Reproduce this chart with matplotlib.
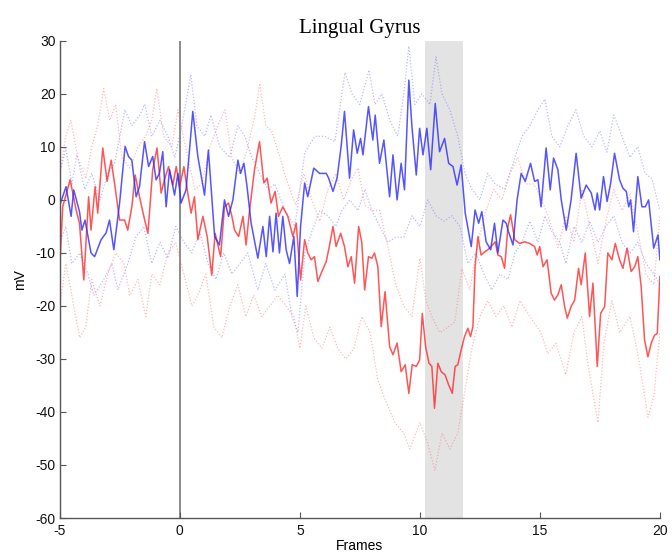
import numpy as np
import matplotlib
matplotlib.use("Agg")
import matplotlib.pyplot as plt

plt.rcParams["axes.unicode_minus"] = False

# --------------------------------
# DATA (frames / mV)
# --------------------------------
blue_x = [-5.00, -4.95, -4.74, -4.53, -4.42, -4.18, -4.08, -3.95, -3.70, -3.55,
          -3.28, -3.07, -2.93, -2.75, -2.51, -2.28, -2.14, -2.00, -1.82, -1.68,
          -1.47, -1.30, -1.13, -0.99, -0.85, -0.71, -0.57, -0.43, -0.22, -0.08,
          0.05, 0.26, 0.54, 0.75, 1.03, 1.19, 1.45, 1.65, 1.86, 2.03,
          2.21, 2.42, 2.53, 2.67, 2.80, 2.97, 3.25, 3.46, 3.60, 3.74,
          3.88, 4.01, 4.15, 4.29, 4.43, 4.57, 4.75, 4.89, 5.03, 5.20,
          5.33, 5.58, 5.82, 6.10, 6.20, 6.38, 6.55, 6.72, 6.86, 7.07,
          7.24, 7.39, 7.53, 7.63, 7.86, 8.04, 8.14, 8.32, 8.50, 8.74,
          8.88, 9.05, 9.22, 9.36, 9.54, 9.67, 9.85, 9.99, 10.13, 10.29,
          10.45, 10.64, 10.82, 11.03, 11.20, 11.38, 11.55, 11.72, 11.89, 12.14,
          12.30, 12.45, 12.58, 12.76, 12.95, 13.11, 13.25, 13.46, 13.60, 13.67,
          13.88, 14.05, 14.22, 14.39, 14.61, 14.78, 14.92, 15.05, 15.26, 15.43,
          15.57, 15.75, 15.89, 16.10, 16.30, 16.51, 16.72, 16.93, 17.14, 17.30,
          17.39, 17.49, 17.65, 17.80, 17.95, 18.11, 18.32, 18.46, 18.60, 18.70,
          18.78, 18.90, 19.08, 19.25, 19.39, 19.53, 19.74, 19.92, 20.00]
blue_mean = [-1.0, -0.3, 2.5, -3.1, 1.9, -2.2, -5.7, -3.8, -10.0, -10.7,
             -7.5, -6.2, -3.8, -9.4, -0.6, 10.1, 8.2, 7.5, 0.6, 2.5,
             11.0, 6.3, 8.2, 3.8, 5.0, 9.1, -1.3, 5.7, 0.9, 5.0,
             -0.6, 1.9, 16.7, 8.2, 0.9, 9.4, -6.9, -8.5, 0.0, -3.1,
             0.0, 7.5, 5.0, 6.9, 2.5, -4.4, -11.0, -5.0, -10.7, -3.1,
             -9.8, -2.5, -10.0, -3.1, -9.4, -12.0, -6.9, -18.2, -5.0, 3.2,
             0.6, 6.0, 5.0, 5.0, 4.1, 1.6, 4.1, 10.1, 16.7, 4.1,
             13.2, 8.8, 11.6, 8.5, 17.6, 11.3, 16.0, 6.9, 11.3, 0.6,
             8.5, 0.0, 6.9, 1.9, 22.6, 13.8, 4.7, 13.5, 8.5, 13.5,
             5.7, 18.2, 9.1, 11.6, 6.9, 6.3, 2.8, 6.6, -2.5, -8.8,
             -1.9, -4.4, -2.2, -7.9, -9.4, -4.4, -10.0, -3.8, -4.4, -5.7,
             -8.5, 0.0, 5.0, 3.5, 6.9, 3.5, 3.8, -1.3, 9.8, 1.9,
             7.9, 5.7, 0.0, -5.7, 0.0, 8.8, 0.3, 2.8, 1.3, -1.9,
             1.3, -1.9, 4.4, -0.3, 3.2, 8.8, 3.8, 2.2, 1.6, -1.3,
             0.0, -6.0, 4.4, -1.3, -1.3, 0.0, -9.1, -6.6, -11.3]

red_x = [-5.00, -4.88, -4.57, -4.32, -4.18, -4.00, -3.80, -3.70, -3.53, -3.42,
         -3.21, -3.03, -2.86, -2.70, -2.51, -2.30, -2.17, -2.00, -1.86, -1.68,
         -1.50, -1.33, -1.13, -0.95, -0.78, -0.64, -0.47, -0.29, -0.15, -0.01,
         0.17, 0.33, 0.47, 0.61, 0.75, 0.96, 1.14, 1.33, 1.47, 1.70,
         1.86, 2.03, 2.17, 2.28, 2.45, 2.63, 2.76, 2.90, 3.11, 3.32,
         3.50, 3.64, 3.80, 3.97, 4.11, 4.29, 4.50, 4.71, 4.85, 5.03,
         5.20, 5.33, 5.47, 5.61, 5.75, 5.89, 6.10, 6.24, 6.38, 6.51,
         6.70, 6.86, 7.00, 7.14, 7.28, 7.45, 7.58, 7.70, 7.86, 8.00,
         8.11, 8.25, 8.39, 8.55, 8.74, 8.88, 9.05, 9.22, 9.39, 9.54,
         9.68, 9.85, 9.99, 10.10, 10.24, 10.38, 10.50, 10.61, 10.75, 10.89,
         11.05, 11.20, 11.35, 11.47, 11.58, 11.72, 11.86, 12.00, 12.11, 12.21,
         12.30, 12.42, 12.55, 12.70, 12.83, 12.97, 13.14, 13.25, 13.39, 13.53,
         13.67, 13.78, 13.95, 14.15, 14.36, 14.57, 14.78, 14.89, 14.99, 15.13,
         15.30, 15.47, 15.61, 15.75, 15.89, 16.03, 16.14, 16.30, 16.45, 16.61,
         16.72, 16.89, 17.07, 17.21, 17.39, 17.53, 17.70, 17.83, 18.00, 18.14,
         18.32, 18.46, 18.63, 18.80, 18.95, 19.08, 19.22, 19.36, 19.50, 19.64,
         19.78, 19.89, 20.00]
red_mean = [-12.6, -1.3, 3.8, -1.9, -4.4, -15.1, 0.6, -5.7, 2.5, -2.5,
            9.8, 3.5, 7.5, 2.5, -3.8, -3.8, -5.7, -1.3, 4.7, 0.6,
            -3.1, -6.3, 5.7, 9.8, 1.3, 3.8, 6.3, 2.8, 6.3, 2.5,
            6.3, 1.3, -2.5, 0.6, -7.5, -3.1, -6.9, -14.2, -6.3, -10.7,
            -1.3, -0.6, -3.1, -5.7, -6.9, -3.1, -8.5, -2.2, 5.7, 11.0,
            3.2, 4.1, -0.6, 1.6, -3.1, -1.3, -3.1, -6.9, -4.4, -15.1,
            -7.5, -10.0, -11.3, -10.7, -15.4, -13.8, -11.6, -8.5, -5.0, -8.8,
            -6.3, -8.8, -12.6, -10.7, -15.7, -5.0, -8.0, -17.0, -10.7, -11.0,
            -10.0, -12.6, -23.9, -17.3, -27.7, -29.2, -27.0, -32.4, -31.1, -36.5,
            -31.1, -31.4, -30.2, -21.4, -27.7, -30.8, -31.4, -39.3, -30.8, -32.4,
            -33.0, -34.9, -36.5, -31.4, -31.1, -28.3, -25.8, -24.2, -25.8, -23.9,
            -12.6, -6.9, -10.4, -9.8, -9.4, -8.8, -7.9, -10.4, -10.7, -12.9,
            -5.0, -2.8, -7.5, -8.2, -7.9, -8.2, -8.8, -10.4, -8.8, -12.6,
            -11.3, -17.6, -18.9, -17.9, -16.0, -20.1, -22.3, -20.1, -18.9, -12.9,
            -16.0, -10.0, -22.0, -15.7, -31.4, -21.4, -20.1, -10.0, -11.3, -8.2,
            -11.3, -12.9, -9.1, -13.5, -12.6, -10.7, -16.4, -26.4, -29.6, -27.0,
            -25.5, -25.2, -14.5]

bu_x = [-5.00, -4.75, -4.50, -4.29, -3.96, -3.67, -3.33, -3.00, -2.71, -2.29,
        -2.00, -1.67, -1.46, -1.17, -0.83, -0.50, -0.21, 0.08, 0.46, 0.71,
        1.04, 1.29, 1.67, 2.08, 2.42, 2.71, 3.00, 3.33, 3.67, 3.96,
        4.38, 4.79, 5.21, 5.63, 6.04, 6.46, 6.88, 7.17, 7.50, 7.88,
        8.13, 8.42, 8.75, 9.08, 9.33, 9.54, 9.79, 10.08, 10.42, 10.67,
        10.92, 11.25, 11.58, 11.88, 12.17, 12.50, 12.83, 13.13, 13.54, 13.96,
        14.25, 14.58, 14.92, 15.21, 15.50, 15.83, 16.17, 16.50, 16.83, 17.17,
        17.50, 17.79, 18.08, 18.42, 18.75, 19.08, 19.38, 19.67, 20.00]
blue_upper = [5, 9.8, 3, 8.5, 2, 5, 0, 5, 7, 17,
              14, 16, 18, 12, 15, 12, 8, 14, 23.6, 14,
              12, 16, 10, 8, 14, 12, 8, 5, 2, 3,
              -2, -5, 9, 12, 12, 11, 24, 20, 18, 24.5,
              18, 20, 15, 12, 20, 29, 18, 20, 18, 27,
              20, 17, 12, 5, 2, 0, 5, 3, 2, 8,
              12, 14, 17, 19, 12, 10, 14, 17, 12, 10,
              13, 9, 16, 12, 8, 10, 5, 4, -2]

bl_x = [-5.00, -4.75, -4.50, -4.17, -3.83, -3.58, -3.17, -2.83, -2.58, -2.17,
        -1.83, -1.50, -1.17, -0.83, -0.50, -0.17, 0.17, 0.50, 0.83, 1.17,
        1.50, 1.83, 2.17, 2.50, 2.83, 3.25, 3.58, 3.96, 4.38, 4.67,
        4.92, 5.21, 5.50, 5.83, 6.17, 6.50, 6.75, 7.08, 7.42, 7.71,
        8.00, 8.33, 8.67, 9.00, 9.33, 9.67, 10.00, 10.33, 10.67, 11.00,
        11.33, 11.67, 12.00, 12.33, 12.67, 13.00, 13.33, 13.67, 13.96, 14.25,
        14.58, 14.92, 15.21, 15.50, 15.83, 16.08, 16.42, 16.75, 17.08, 17.42,
        17.75, 18.08, 18.42, 18.75, 19.08, 19.42, 19.75, 20.00]
blue_lower = [-8, -5, -12, -10, -14, -18, -15, -12, -17, -12,
              -7, -5, -12, -8, -11, -5, -8, -10, -6, -12,
              -15, -10, -14, -12, -10, -17, -12, -17, -14, -22,
              -25, -10, -6, -2, -3, -5, -2, 0, -2, 2,
              -2, -5, -8, -7, -7, -3, -5, 0, -3, -4,
              -3, -5, -12, -10, -14, -17, -14, -15, -10, -8,
              -4, -8, -3, -6, -8, -12, -5, -8, -4, -8,
              -5, -3, -8, -10, -8, -12, -14, -16]

ru_x = [-5.00, -4.75, -4.54, -4.25, -3.92, -3.67, -3.42, -3.17, -2.92, -2.67,
        -2.42, -2.08, -1.75, -1.42, -1.17, -0.96, -0.67, -0.33, -0.08, 0.33,
        0.63, 0.92, 1.25, 1.58, 1.88, 2.17, 2.50, 2.83, 3.13, 3.33,
        3.58, 3.83, 4.17, 4.50, 4.83, 5.17, 5.50, 5.83, 6.17, 6.50,
        6.83, 7.17, 7.42, 7.71, 8.00, 8.33, 8.67, 9.00, 9.33, 9.67,
        10.00, 10.25, 10.50, 10.83, 11.17, 11.46, 11.75, 12.08, 12.42, 12.75,
        13.08, 13.42, 13.75, 14.08, 14.42, 14.75, 15.08, 15.42, 15.75, 16.08,
        16.42, 16.75, 17.08, 17.42, 17.75, 18.08, 18.42, 18.75, 19.08, 19.42,
        19.75, 20.00]
red_upper = [5, 12, 15, 8, 4, 10, 14, 21, 15, 18,
             8, 6, 10, 12, 15, 21, 12, 10, 17, 8,
             2, 3, 10, 14, 17, 8, 5, 10, 16, 22,
             14, 13, 8, 3, -1, 5, 0, -4, 2, 5,
             0, 4, 6, -1, -2, -2, -9, -16, -20, -22,
             -11, -19, -22, -25, -24, -23, -13, -17, -8, -2,
             2, 0, 5, 8, 3, 3, 0, -4, -9, -3,
             -8, 2, -5, -12, -4, 2, -2, 1, -6, -14,
             -16, -3]

rl_x = [-5.00, -4.75, -4.50, -4.17, -3.92, -3.67, -3.33, -3.00, -2.67, -2.33,
        -2.08, -1.75, -1.42, -1.17, -0.83, -0.50, -0.17, 0.17, 0.50, 0.75,
        1.08, 1.42, 1.75, 2.08, 2.42, 2.75, 3.08, 3.42, 3.75, 4.08,
        4.42, 4.75, 5.00, 5.25, 5.58, 5.92, 6.25, 6.58, 6.92, 7.25,
        7.58, 7.92, 8.25, 8.58, 8.96, 9.33, 9.58, 10.00, 10.33, 10.63,
        10.92, 11.25, 11.58, 11.88, 12.17, 12.50, 12.83, 13.17, 13.50, 13.83,
        14.17, 14.58, 15.04, 15.33, 15.67, 16.08, 16.42, 16.75, 17.00, 17.42,
        17.67, 18.00, 18.33, 18.75, 19.08, 19.50, 19.75, 20.00]
red_lower = [-20, -12, -18, -26, -24, -15, -20, -14, -10, -12,
             -18, -15, -22, -14, -16, -10, -8, -14, -20, -18,
             -14, -24, -26, -20, -16, -22, -18, -22, -20, -18,
             -20, -22, -28, -20, -26, -28, -24, -28, -30, -28,
             -22, -25, -34, -38, -42, -44, -47, -42, -46, -51,
             -44, -47, -44, -36, -28, -22, -19, -22, -20, -24,
             -19, -22, -25, -29, -27, -33, -25, -22, -31, -42,
             -27, -19, -25, -22, -29, -41, -37, -25]

window = (10.2, 11.8)   # shaded frames

# --------------------------------
# PLOTTING
# --------------------------------
fig = plt.figure(figsize=(6.72, 5.6), dpi=100)
ax = fig.add_axes([0.089, 0.075, 0.893, 0.852])

ax.axvspan(window[0], window[1], color="#e3e3e3", lw=0, zorder=0)
ax.axvline(0, color="#8c8c8c", lw=1.4, zorder=1)

band_kw = dict(lw=0.9, ls=(0, (1, 1.5)), alpha=0.55)
ax.plot(bu_x, blue_upper, color="#8080ff", **band_kw)
ax.plot(bl_x, blue_lower, color="#8080ff", **band_kw)
ax.plot(ru_x, red_upper, color="#ff8080", **band_kw)
ax.plot(rl_x, red_lower, color="#ff8080", **band_kw)

ax.plot(red_x, red_mean, color="#ff2a2a", lw=1.1, alpha=0.8)
ax.plot(blue_x, blue_mean, color="#2a2aff", lw=1.1, alpha=0.8)

ax.set_xlim(-5, 20)
ax.set_ylim(-60, 30)
ax.set_xticks(np.arange(-5, 21, 5))
ax.set_yticks(np.arange(-60, 31, 10))

for side in ["top", "right"]:
    ax.spines[side].set_visible(False)
for side in ["left", "bottom"]:
    ax.spines[side].set_color("#555555")
    ax.spines[side].set_linewidth(1.0)
ax.tick_params(direction="in", length=4, color="#555555",
               labelsize=10, labelcolor="#111111")
ax.tick_params(axis="x", pad=4)
ax.tick_params(axis="y", pad=3)
for lab in ax.get_xticklabels() + ax.get_yticklabels():
    lab.set_family("Liberation Sans")

ax.set_xlabel("Frames", family="Liberation Sans", fontsize=10, labelpad=1)
ax.set_ylabel("mV", family="Liberation Sans", fontsize=10, labelpad=6)
ax.set_title("Lingual Gyrus", family="Liberation Serif", fontsize=15, pad=6)

fig.savefig("out.png", dpi=100)
